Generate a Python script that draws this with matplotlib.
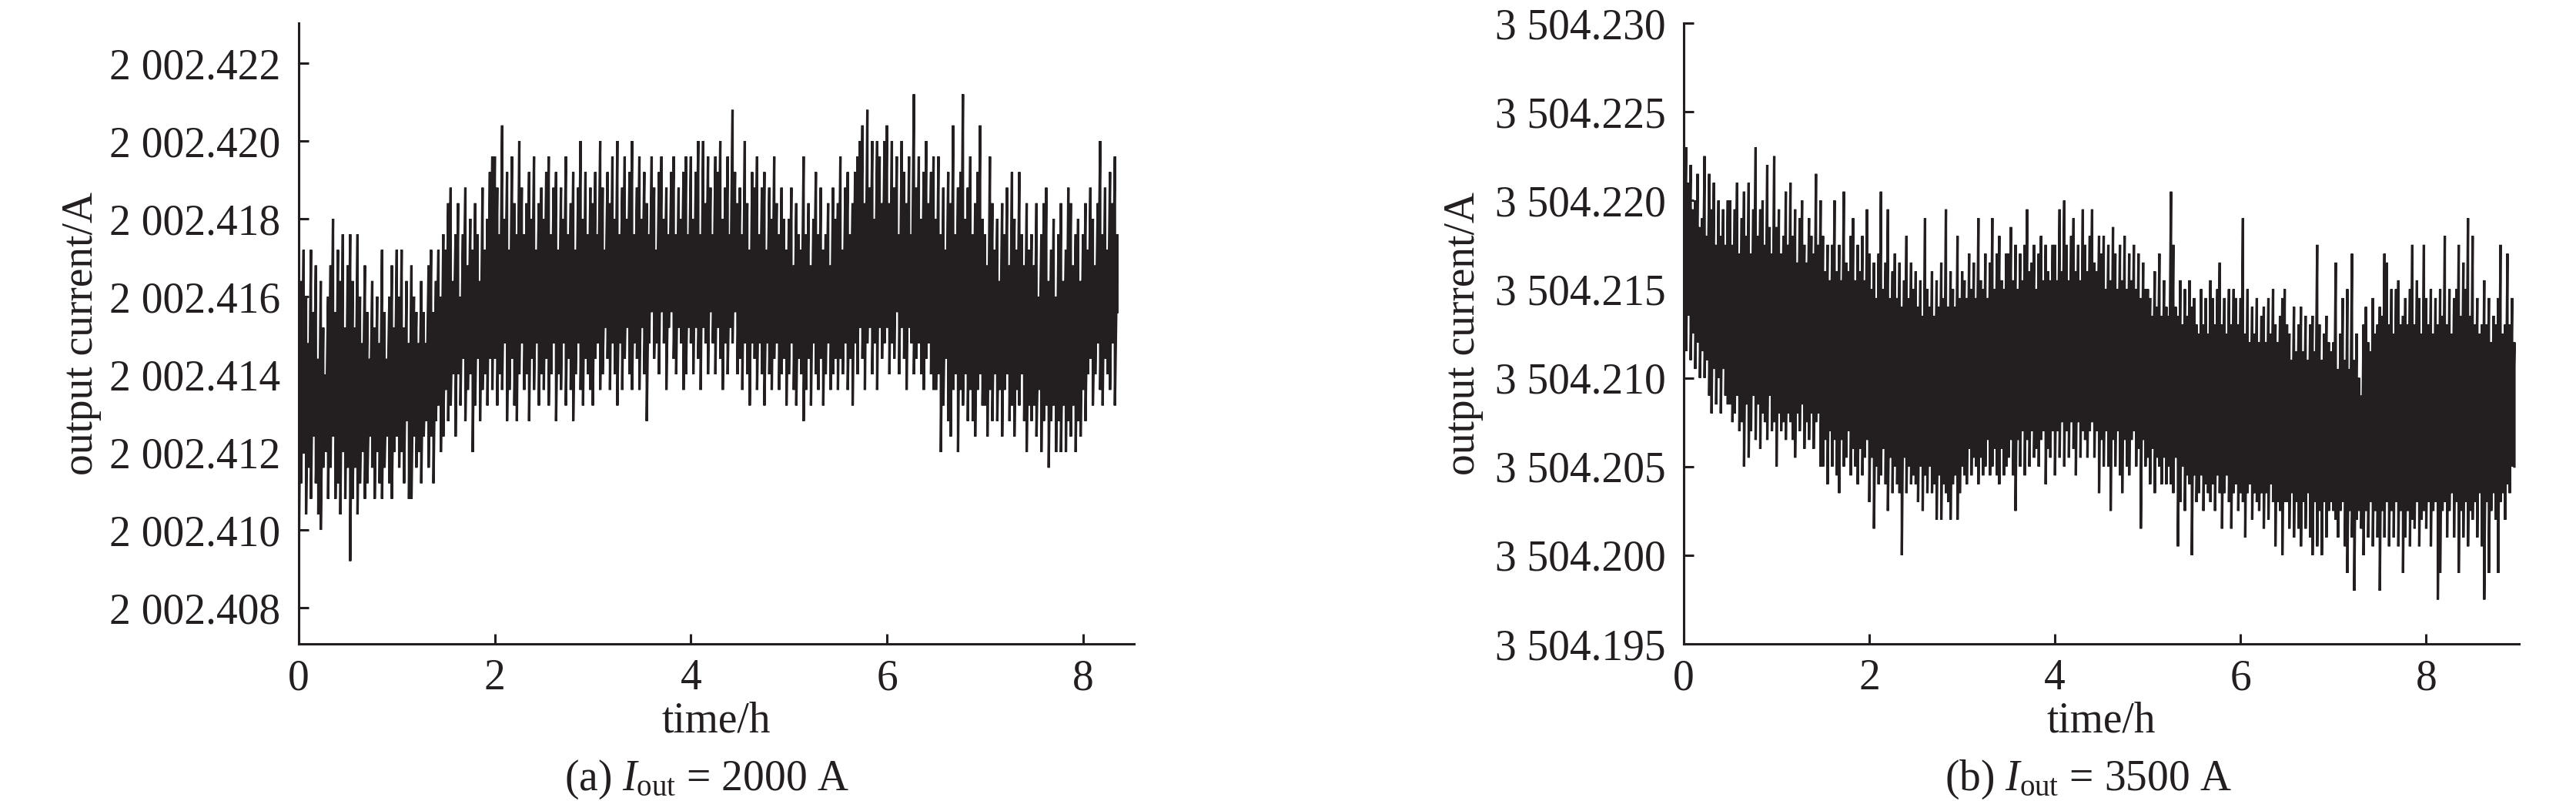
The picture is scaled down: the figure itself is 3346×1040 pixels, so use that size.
import numpy as np
import matplotlib
matplotlib.use("Agg")
import matplotlib.pyplot as plt
from matplotlib.ticker import FuncFormatter, FixedLocator

plt.rcParams['font.family'] = ['Liberation Serif', 'DejaVu Serif']
plt.rcParams['mathtext.fontset'] = 'custom'
plt.rcParams['mathtext.rm'] = 'Liberation Serif'
plt.rcParams['mathtext.it'] = 'Liberation Serif:italic'

INK = '#231f20'

# ---------------- data ----------------
# Each series is given as per-column (0.025 h) maximum / minimum of the
# recorded current, in units of 0.1 mA above a base value.
unit = 1e-4

duration_a = 8.35          # h
base_a = 2002.400          # A
hi_a = [
    152,164,172,160,148,172,156,168,144,164,152,140,160,168,180,156,172,164,176,152,
    168,176,164,152,176,160,148,168,156,144,164,152,160,148,172,156,144,160,168,152,
    172,160,172,152,164,148,168,160,156,148,164,156,148,168,172,156,164,172,160,176,
    172,184,188,164,176,184,160,176,188,168,180,172,184,176,164,188,172,180,192,196,
    196,188,176,204,180,192,172,196,184,176,200,188,176,184,192,180,196,172,184,188,
    180,192,196,176,188,192,172,188,180,196,176,184,192,172,188,200,180,192,176,188,
    184,192,176,200,188,172,192,184,196,180,200,176,188,196,180,192,200,176,188,196,
    180,192,184,176,196,188,172,192,196,180,188,176,192,196,176,188,180,192,196,176,
    196,180,192,200,176,200,184,196,188,176,196,192,200,180,188,196,176,208,192,184,
    188,176,200,184,172,192,188,196,176,188,192,172,188,180,196,184,176,188,180,172,
    180,188,168,184,176,172,196,176,184,168,180,192,176,188,172,176,184,168,188,180,
    184,196,172,188,192,176,184,192,196,200,204,184,208,188,200,180,200,196,184,200,
    204,184,200,188,196,176,200,192,184,196,176,212,188,196,180,192,200,184,192,196,
    180,196,176,188,172,192,184,204,176,188,192,212,180,188,196,176,184,192,204,180,
    176,168,196,184,172,180,164,184,176,188,168,192,180,172,192,176,168,184,172,176,
    168,184,160,176,184,188,164,172,180,160,176,184,164,172,188,184,168,176,180,164,
    176,184,172,188,180,168,184,200,176,188,172,192,184,196,176,
]
lo_a = [
    88,112,120,104,116,108,124,112,104,100,116,120,108,116,124,108,112,104,120,108,
    116,92,108,116,104,112,120,108,112,124,116,108,120,112,108,116,124,112,108,120,
    124,116,120,112,128,108,108,124,116,120,112,124,128,116,124,112,128,132,120,124,
    136,128,132,140,124,140,132,144,128,136,140,120,132,144,128,136,140,132,144,136,
    144,132,140,136,148,128,136,144,132,128,140,148,136,140,128,144,136,148,132,140,
    136,144,132,140,148,128,140,136,148,132,144,136,128,140,148,136,132,144,140,136,
    132,144,148,136,140,152,144,136,148,140,132,148,136,144,152,140,136,148,144,136,
    152,140,128,148,156,144,148,140,156,148,136,152,156,144,140,152,148,136,140,152,
    148,140,152,144,136,152,148,140,156,148,140,152,144,136,148,140,152,148,156,140,
    144,136,148,140,132,148,144,136,148,140,132,148,140,136,144,148,136,140,144,132,
    140,148,136,132,144,140,128,136,144,132,148,140,136,144,132,140,148,136,140,144,
    136,144,140,148,136,144,132,148,140,152,144,136,148,152,140,148,136,152,144,148,
    152,140,148,144,156,140,152,144,136,152,148,140,144,148,140,136,144,148,140,136,
    136,140,120,132,144,128,124,136,140,120,136,132,140,128,136,128,124,136,140,132,
    132,124,136,128,140,128,136,124,136,140,128,132,124,136,132,140,128,120,132,128,
    132,124,136,120,128,132,116,128,132,120,128,120,132,120,128,124,132,120,128,124,
    136,128,140,144,132,140,148,136,132,144,140,136,148,132,156,
]

duration_b = 8.95          # h
base_b = 3504.190          # A
hi_b = [
    335,330,310,320,295,300,315,285,290,325,280,315,295,310,275,300,280,295,275,300,
    300,275,295,310,270,290,305,280,310,270,295,330,280,295,300,275,320,285,270,325,
    285,295,270,280,305,275,310,280,295,265,290,300,275,265,290,280,270,315,275,300,
    280,260,275,255,275,300,260,275,255,305,265,260,280,290,255,275,260,280,255,295,
    270,250,265,245,270,305,250,265,295,245,260,270,245,265,240,255,280,245,265,250,
    260,240,255,235,290,250,240,260,235,255,240,265,245,295,240,260,250,240,280,245,
    260,255,245,270,250,265,245,290,255,250,270,245,265,290,250,270,280,255,250,270,
    270,285,255,275,250,270,255,275,295,260,265,275,250,270,280,255,275,260,255,275,
    275,255,295,260,300,275,255,280,290,260,275,255,295,275,260,280,295,265,260,280,
    270,280,250,275,255,285,270,250,275,255,280,250,270,255,275,250,270,245,265,250,
    250,245,235,260,240,270,235,255,240,235,305,275,240,235,255,230,250,235,255,240,
    245,230,225,250,230,245,225,255,245,230,250,265,230,245,225,250,230,250,245,230,
    245,290,225,250,220,240,225,245,220,235,240,220,245,225,250,230,220,235,245,250,
    230,225,210,240,215,230,240,215,235,210,230,235,215,275,230,210,225,235,220,215,
    220,265,205,225,245,210,250,205,270,210,225,200,190,230,240,220,215,245,225,230,
    240,235,270,265,230,250,225,250,255,230,235,245,230,250,275,230,255,245,225,275,
    245,230,250,225,245,230,250,235,280,230,250,225,245,250,275,235,265,250,290,235,
    280,230,245,225,230,255,230,245,220,235,230,245,275,225,230,270,230,245,220,
]
lo_b = [
    240,215,235,210,225,205,220,200,215,200,210,190,180,205,185,200,180,205,190,185,
    185,175,180,190,170,175,150,185,155,170,190,165,185,160,180,175,165,190,170,175,
    150,180,170,175,165,180,175,165,155,180,170,185,160,175,165,180,160,175,180,150,
    150,165,140,170,150,165,145,135,165,150,155,170,145,160,150,140,160,145,155,165,
    130,155,115,150,140,145,160,140,125,155,135,150,140,135,100,155,135,150,140,145,
    140,130,150,125,145,135,150,135,140,120,145,120,140,135,130,120,140,145,120,135,
    150,145,140,160,145,155,150,140,155,145,150,165,145,150,160,145,140,160,145,150,
    155,165,145,125,165,150,170,145,165,150,170,155,160,150,165,170,140,160,155,170,
    145,170,155,175,150,170,155,175,160,145,175,155,170,165,155,170,175,155,170,135,
    165,150,170,150,125,165,150,170,145,135,165,150,145,165,170,150,160,115,165,150,
    155,140,160,135,155,150,140,155,140,150,140,135,155,105,130,150,125,145,140,100,
    145,130,135,145,125,140,135,130,140,125,145,135,115,135,145,130,115,135,140,125,
    135,130,110,135,140,120,135,130,125,135,115,135,120,140,130,105,130,125,100,130,
    130,115,135,110,130,115,105,130,115,135,110,100,130,105,125,100,130,110,125,130,
    125,120,110,125,130,105,90,125,110,80,120,125,115,100,125,110,130,105,125,110,
    80,125,110,130,105,125,110,130,105,125,90,110,125,105,120,115,130,105,120,125,
    115,130,105,125,130,75,90,125,130,110,125,135,110,130,90,125,110,130,105,125,
    120,130,110,135,105,75,130,90,125,135,120,90,130,135,120,140,135,150,150,
]

xticks = [0, 2, 4, 6, 8]
yticks_a = [2002.408, 2002.410, 2002.412, 2002.414, 2002.416, 2002.418, 2002.420, 2002.422]
yticks_b = [3504.195, 3504.200, 3504.205, 3504.210, 3504.215, 3504.220, 3504.225, 3504.230]
xlim_a = (0, 8.52)
xlim_b = (0, 9.0)
ylim_a = (2002.40707, 2002.42303)
ylim_b = (3504.195, 3504.230)
caption_a = r"(a) $I_{\mathrm{out}}$ = 2000 A"
caption_b = r"(b) $I_{\mathrm{out}}$ = 3500 A"
xlabel = "time/h"
ylabel = "output current/A"

# ---------------- drawing ----------------
FS = 40
fig = plt.figure(figsize=(33.46, 10.40), dpi=100)
ax_a = fig.add_axes([0.11596, 0.19615, 0.32427, 0.7750])
ax_b = fig.add_axes([0.65362, 0.19615, 0.32427, 0.7750])


def draw_trace(ax, duration, base, hi, lo):
    hi_v = base + np.asarray(hi, dtype=float) * unit
    lo_v = base + np.asarray(lo, dtype=float) * unit
    t = np.linspace(0, duration, len(hi_v))
    x = np.repeat(t, 2)
    y = np.column_stack([hi_v, lo_v]).ravel()
    ax.plot(x, y, color=INK, lw=2.3, solid_joinstyle='miter')


def fmt(v, pos):
    return f"{v:,.3f}".replace(",", " ")


def style(ax, xlim, ylim, yticks, ylab_x, cap, cap_x):
    ax.set_xlim(*xlim)
    ax.set_ylim(*ylim)
    ax.xaxis.set_major_locator(FixedLocator(xticks))
    ax.yaxis.set_major_locator(FixedLocator(yticks))
    ax.yaxis.set_major_formatter(FuncFormatter(fmt))
    for s in ('top', 'right'):
        ax.spines[s].set_visible(False)
    for s in ('left', 'bottom'):
        ax.spines[s].set_linewidth(2.2)
        ax.spines[s].set_color(INK)
    ax.tick_params(direction='in', length=9.5, width=2.2, color=INK,
                   labelsize=FS, labelcolor=INK)
    ax.tick_params(axis='y', pad=17)
    ax.tick_params(axis='x', pad=14)
    ax.set_ylabel(ylabel, fontsize=FS, color=INK)
    ax.yaxis.set_label_coords(ylab_x, 0.5)
    ax.set_xlabel(xlabel, fontsize=FS, color=INK)
    ax.xaxis.set_label_coords(0.5, -0.093)
    ax.text(cap_x, -0.184, cap, transform=ax.transAxes, ha='center', va='top',
            fontsize=FS, color=INK)


draw_trace(ax_a, duration_a, base_a, hi_a, lo_a)
draw_trace(ax_b, duration_b, base_b, hi_b, lo_b)
style(ax_a, xlim_a, ylim_a, yticks_a, -0.236, caption_a, 0.489)
style(ax_b, xlim_b, ylim_b, yticks_b, -0.240, caption_b, 0.485)

fig.savefig("out.png", dpi=100)
